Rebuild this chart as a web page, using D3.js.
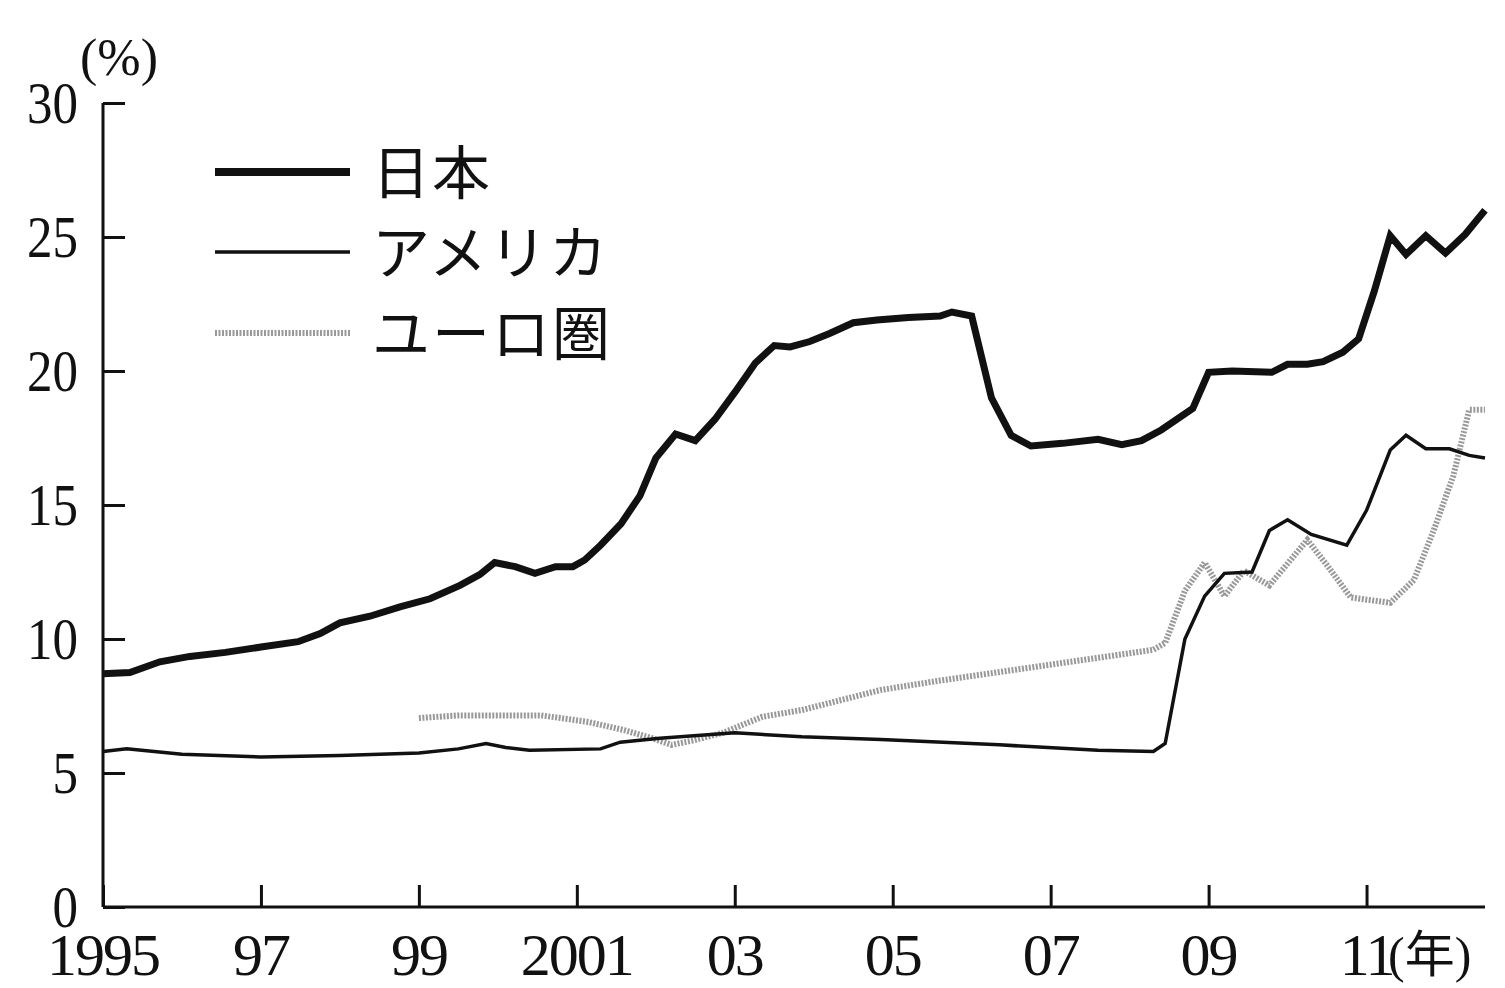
<!DOCTYPE html><html><head><meta charset="utf-8">
<script src="https://cdn.jsdelivr.net/npm/d3@7"></script>
<style>body{margin:0;background:#fff}text{font-family:"Liberation Serif","Noto Sans CJK JP",serif;fill:#111}</style>
</head><body><svg id="c" width="1505" height="988"></svg><script>
const japanX=[1995.0,1995.34,1995.72,1996.1,1996.55,1997.0,1997.47,1997.75,1998.0,1998.38,1998.76,1999.14,1999.52,1999.77,1999.96,2000.22,2000.47,2000.73,2000.95,2001.1,2001.3,2001.56,2001.8,2002.0,2002.25,2002.5,2002.75,2003.0,2003.26,2003.5,2003.7,2003.95,2004.2,2004.5,2004.8,2005.2,2005.6,2005.75,2006.0,2006.25,2006.5,2006.75,2007.15,2007.6,2007.9,2008.15,2008.4,2008.8,2009.0,2009.3,2009.8,2010.0,2010.25,2010.45,2010.7,2010.9,2011.1,2011.3,2011.5,2011.75,2012.0,2012.25,2012.5];
const japanY=[8.7,8.75,9.15,9.35,9.5,9.7,9.9,10.2,10.6,10.85,11.2,11.5,12.0,12.4,12.85,12.7,12.45,12.7,12.7,12.95,13.5,14.3,15.35,16.75,17.65,17.4,18.2,19.2,20.3,20.95,20.9,21.1,21.4,21.8,21.9,22.0,22.05,22.2,22.05,19.0,17.6,17.2,17.3,17.45,17.25,17.4,17.8,18.6,19.95,20.0,19.95,20.25,20.25,20.35,20.7,21.2,23.0,25.05,24.35,25.05,24.4,25.1,26.0];
const usX=[1995.0,1995.3,1996.0,1997.0,1998.0,1999.0,1999.5,1999.85,2000.1,2000.4,2001.3,2001.55,2002.05,2003.0,2003.85,2004.85,2006.35,2007.6,2008.3,2008.45,2008.7,2008.95,2009.2,2009.55,2009.77,2010.0,2010.3,2010.75,2011.0,2011.3,2011.5,2011.75,2012.05,2012.3,2012.5];
const usY=[5.8,5.9,5.7,5.6,5.65,5.75,5.9,6.1,5.95,5.85,5.9,6.15,6.3,6.5,6.35,6.25,6.05,5.85,5.8,6.1,10.0,11.6,12.45,12.5,14.05,14.45,13.9,13.5,14.8,17.05,17.6,17.1,17.1,16.85,16.75];
const euroX=[1999.0,1999.5,2000.55,2001.15,2001.6,2001.95,2002.2,2002.45,2002.85,2003.35,2003.85,2004.85,2005.6,2006.9,2007.6,2008.3,2008.45,2008.7,2008.95,2009.2,2009.45,2009.77,2010.25,2010.5,2010.8,2011.3,2011.6,2011.85,2012.1,2012.3,2012.5];
const euroY=[7.05,7.15,7.15,6.9,6.6,6.3,6.05,6.2,6.5,7.1,7.35,8.1,8.45,9.0,9.3,9.6,9.85,11.8,12.85,11.6,12.55,12.0,13.7,12.75,11.55,11.35,12.2,14.05,16.1,18.55,18.55];
const yTicks=[0,5,10,15,20,25,30];
const xTicks=[1995,1997,1999,2001,2003,2005,2007,2009,2011];
const xLabels=["1995","97","99","2001","03","05","07","09","11"];
const legend=["日本","アメリカ","ユーロ圏"];

const svg=d3.select("#c");
const x=d3.scaleLinear().domain([1995,2012.5]).range([103,1485]);
const y=d3.scaleLinear().domain([0,30]).range([907,103]);
const yAx=svg.append("g").attr("transform","translate(103,0)").call(d3.axisRight(y).tickValues(yTicks).tickSize(22).tickFormat(""));
yAx.select(".domain").attr("d","M0,103V907");
const xAx=svg.append("g").attr("transform","translate(0,907)").call(d3.axisTop(x).tickValues(xTicks).tickSize(22).tickFormat(""));
xAx.select(".domain").attr("d","M103,0H1485");
svg.selectAll(".domain,.tick line").attr("stroke","#111").attr("stroke-width",3);
svg.selectAll(".ylab").data(yTicks).join("text").attr("x",78).attr("y",d=>y(d)+20).attr("text-anchor","end").attr("font-size",60).attr("transform",d=>`translate(78,${y(d)}) scale(0.85,1) translate(-78,${-y(d)})`).text(d=>d);
svg.selectAll(".xlab").data(xTicks).join("text").attr("x",d=>x(d)).attr("y",975).attr("text-anchor","middle").attr("font-size",60).attr("letter-spacing",-2).text((d,i)=>xLabels[i]);
svg.append("text").attr("x",80).attr("y",75).attr("font-size",52).text("(%)");
svg.append("text").attr("x",1388).attr("y",972).attr("font-size",50).text("(年)");
const line=(xs,ys)=>d3.line().x((d,i)=>x(xs[i])).y(d=>y(d))(ys);
svg.append("path").attr("d",line(euroX,euroY)).attr("fill","none").attr("stroke","#999").attr("stroke-width",6).attr("stroke-dasharray","2,1.5");
svg.append("path").attr("d",line(usX,usY)).attr("fill","none").attr("stroke","#111").attr("stroke-width",3.5);
svg.append("path").attr("d",line(japanX,japanY)).attr("fill","none").attr("stroke","#111").attr("stroke-width",7);
const ly=[172,252,333],sw=[8,3.5,6];
legend.forEach((t,i)=>{
  const l=svg.append("line").attr("x1",215).attr("x2",350).attr("y1",ly[i]).attr("y2",ly[i]).attr("stroke",i==2?"#999":"#111").attr("stroke-width",sw[i]);
  if(i==2)l.attr("stroke-dasharray","2,1.5");
  svg.append("text").attr("x",372).attr("y",ly[i]+22).attr("font-size",58).attr("letter-spacing",2).text(t);
});
</script></body></html>
